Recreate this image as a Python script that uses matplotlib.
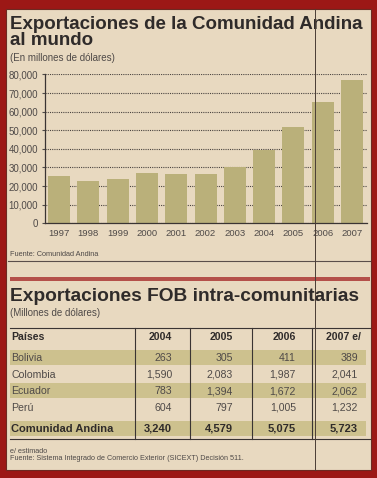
import matplotlib.pyplot as plt
from matplotlib.patches import Rectangle
from matplotlib.lines import Line2D
from matplotlib.ticker import FuncFormatter

# exportaciones al mundo (millones de dolares)
years = ['1997', '1998', '1999', '2000', '2001', '2002', '2003', '2004', '2005', '2006', '2007']
exports = [25600, 22700, 24000, 27000, 26500, 26500, 30400, 39300, 51600, 65000, 77000]

# exportaciones FOB intra-comunitarias
countries = ['Bolivia', 'Colombia', 'Ecuador', 'Perú', 'Comunidad Andina']
table_years = ['2004', '2005', '2006', '2007 e/']
fob_2004 = [263, 1590, 783, 604, 3240]
fob_2005 = [305, 2083, 1394, 797, 4579]
fob_2006 = [411, 1987, 1672, 1005, 5075]
fob_2007 = [389, 2041, 2062, 1232, 5723]

plt.rcParams['font.family'] = ['Liberation Sans', 'DejaVu Sans']

W, H = 377, 478
paper = '#e8d9c0'
bar_col = '#bab07a'
band_col = '#cdc18e'
dark = '#2f2b2a'
grey = '#4f4a48'

fig = plt.figure(figsize=(W / 100, H / 100), dpi=100)
fig.patch.set_facecolor('#9c1816')

# background axes in pixel units (y downwards)
bg = fig.add_axes([0, 0, 1, 1])
bg.set_xlim(0, W)
bg.set_ylim(H, 0)
bg.axis('off')
bg.add_patch(Rectangle((6, 9), 365, 461, facecolor=paper, edgecolor='#6d2a22', lw=0.8))

renderer = fig.canvas.get_renderer()


def fit_title(x, y, s, width_px):
    t = bg.text(x, y, s, fontsize=14, fontweight='bold', color=dark, va='baseline')
    w = t.get_window_extent(renderer).width
    t.set_fontsize(14 * width_px / w)
    return t


# titles
t1 = fit_title(10, 29, 'Exportaciones de la Comunidad Andina', 354)
bg.text(10, 45, 'al mundo', fontsize=t1.get_fontsize(), fontweight='bold',
        color=dark, va='baseline')
bg.text(10, 61, '(En millones de dólares)', fontsize=7, color=grey, va='baseline')

# bar chart
ax = fig.add_axes([45 / W, 1 - 223.3 / H, (367 - 45) / W, (223.3 - 74.5) / H])
ax.set_facecolor('none')
ax.bar(range(len(years)), exports, width=0.75, color=bar_col, zorder=2)
ax.set_xlim(-0.48, 10.51)
ax.set_ylim(0, 80000)
ax.set_yticks(range(0, 80001, 10000))
ax.yaxis.set_major_formatter(FuncFormatter(lambda v, p: f'{int(v):,}'))
ax.set_axisbelow(True)
ax.grid(axis='y', linestyle=(0, (1, 1)), color='#4a4440', lw=0.8)
ax.set_xticks(range(len(years)))
ax.set_xticklabels(years)
for s in ['top', 'right']:
    ax.spines[s].set_visible(False)
for s in ['left', 'bottom']:
    ax.spines[s].set_color('#3a3433')
    ax.spines[s].set_linewidth(0.9)
ax.tick_params(axis='x', length=0, pad=4, labelsize=6.8, colors=grey)
ax.tick_params(axis='y', length=2, width=0.8, pad=3, labelsize=7, colors=grey)

bg.text(10, 256, 'Fuente: Comunidad Andina', fontsize=5.3, color=grey, va='baseline')
bg.plot([8, 370], [261, 261], color='#5a4e4a', lw=0.8)

# red rule
bg.add_patch(Rectangle((10, 277), 360, 4, facecolor='#b4504a', edgecolor='none'))

# table
fit_title(10, 301, 'Exportaciones FOB intra-comunitarias', 352)
bg.text(10, 316, '(Millones de dólares)', fontsize=7, color=grey, va='baseline')

row_y = [357, 373.7, 390.4, 407.1, 428]
band_h = 15
for i in [0, 2, 4]:
    bg.add_patch(Rectangle((10, row_y[i] - band_h / 2), 356, band_h,
                           facecolor=band_col, edgecolor='none'))

bg.plot([10, 370], [327.7, 327.7], color='#3a3433', lw=0.8)
bg.plot([10, 370], [439, 439], color='#3a3433', lw=0.8)
for x in [135, 190, 252, 312]:
    bg.plot([x, x], [327.7, 439], color='#3a3433', lw=0.8)

col_right = [172, 233, 296, 358]
head_right = [172, 233, 296, 361]
off = 3.8  # baseline below row centre
bg.text(11, 336 + off, 'Países', fontsize=7.6, fontweight='bold', color=dark, va='baseline')
for xr, lab in zip(head_right, table_years):
    bg.text(xr, 336 + off, lab, fontsize=7.6, fontweight='bold', color=dark,
            va='baseline', ha='right')

cols = [fob_2004, fob_2005, fob_2006, fob_2007]
for i, name in enumerate(countries):
    total = i == len(countries) - 1
    fw = 'bold' if total else 'normal'
    c = dark if total else grey
    fs = 8 if total else 7.6
    bg.text(11, row_y[i] + off, name, fontsize=fs, fontweight=fw, color=c, va='baseline')
    for xr, vals in zip(col_right, cols):
        bg.text(xr, row_y[i] + off, f'{vals[i]:,}', fontsize=fs, fontweight=fw,
                color=c, va='baseline', ha='right')

bg.text(10, 453, 'e/ estimado', fontsize=5.2, color=grey, va='baseline')
bg.text(10, 460, 'Fuente: Sistema Integrado de Comercio Exterior (SICEXT) Decisión 511.',
        fontsize=5.2, color=grey, va='baseline')

# fold crease across the page
fig.add_artist(Line2D([314.5 / W, 314.5 / W], [1 - 470 / H, 1 - 9 / H],
                      color='#4a3d35', lw=0.7))

fig.savefig('out.png', dpi=100, facecolor=fig.get_facecolor())
